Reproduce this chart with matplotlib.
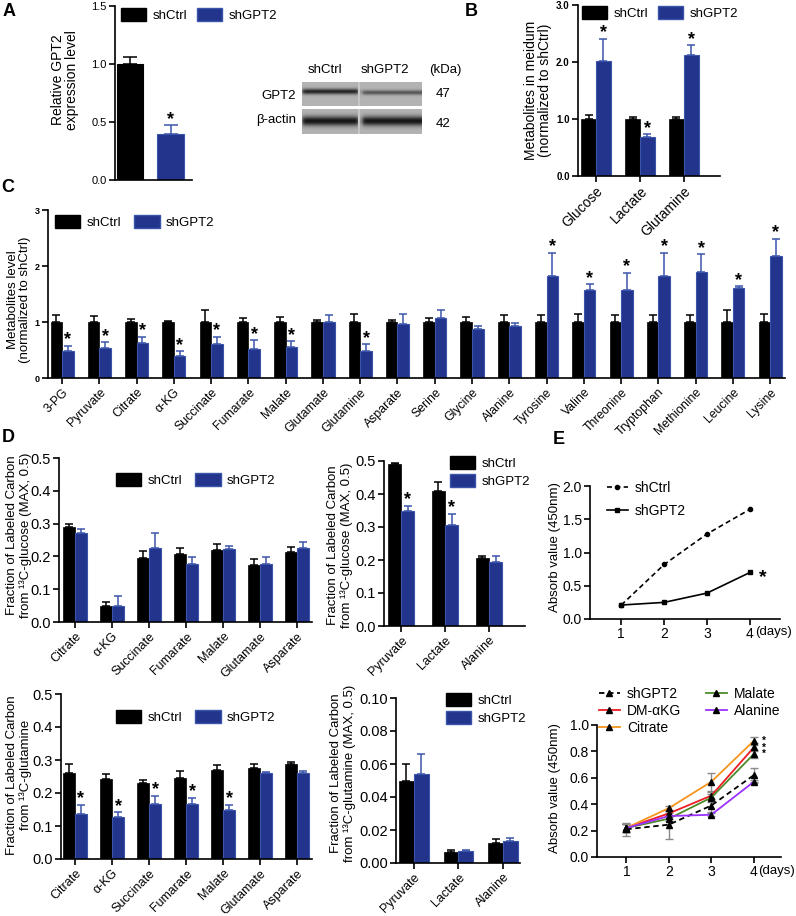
import numpy as np
import matplotlib
matplotlib.use('Agg')
import matplotlib.pyplot as plt
from matplotlib.patches import Patch
from matplotlib.lines import Line2D

plt.rcParams['font.family'] = ['Liberation Sans', 'DejaVu Sans']

# ---------------- DATA ----------------
# Panel A
a_groups = ['shCtrl', 'shGPT2']
a_vals = [1.0, 0.40]
a_errs = [0.06, 0.07]

# Panel B
b_cats = ['Glucose', 'Lactate', 'Glutamine']
b_ctrl = [1.0, 1.0, 1.0]
b_ctrl_err = [0.07, 0.03, 0.04]
b_gpt = [2.01, 0.69, 2.12]
b_gpt_err = [0.40, 0.04, 0.17]
b_star = [1, 1, 1]

# Panel C
c_cats = ['3-PG', 'Pyruvate', 'Citrate', 'α-KG', 'Succinate', 'Fumarate', 'Malate',
          'Glutamate', 'Glutamine', 'Asparate', 'Serine', 'Glycine', 'Alanine',
          'Tyrosine', 'Valine', 'Threonine', 'Tryptophan', 'Methionine', 'Leucine', 'Lysine']
c_ctrl = [1.0, 1.0, 1.0, 1.0, 1.0, 1.0, 1.0, 1.0, 1.0, 1.0,
          1.0, 1.0, 1.0, 1.0, 1.0, 1.0, 1.0, 1.0, 1.0, 1.0]
c_ctrl_err = [0.12, 0.10, 0.05, 0.02, 0.22, 0.07, 0.09, 0.04, 0.15, 0.04,
              0.07, 0.09, 0.12, 0.12, 0.14, 0.12, 0.12, 0.12, 0.22, 0.15]
c_gpt = [0.48, 0.54, 0.63, 0.40, 0.60, 0.52, 0.55, 1.00, 0.48, 0.97,
         1.08, 0.87, 0.92, 1.83, 1.58, 1.58, 1.83, 1.90, 1.61, 2.17]
c_gpt_err = [0.10, 0.10, 0.11, 0.08, 0.14, 0.15, 0.11, 0.13, 0.12, 0.17,
             0.13, 0.06, 0.06, 0.41, 0.09, 0.30, 0.41, 0.31, 0.03, 0.32]
c_star = [1, 1, 1, 1, 1, 1, 1, 0, 1, 0, 0, 0, 0, 1, 1, 1, 1, 1, 1, 1]

# Panel D (13C-glucose)
d1_cats = ['Citrate', 'α-KG', 'Succinate', 'Fumarate', 'Malate', 'Glutamate', 'Asparate']
d1_ctrl = [0.290, 0.050, 0.195, 0.208, 0.218, 0.173, 0.213]
d1_ctrl_err = [0.010, 0.012, 0.020, 0.017, 0.020, 0.018, 0.017]
d1_gpt = [0.270, 0.048, 0.225, 0.177, 0.222, 0.178, 0.225]
d1_gpt_err = [0.015, 0.030, 0.047, 0.022, 0.010, 0.020, 0.018]
d1_star = [0, 0, 0, 0, 0, 0, 0]

d2_cats = ['Pyruvate', 'Lactate', 'Alanine']
d2_ctrl = [0.490, 0.410, 0.205]
d2_ctrl_err = [0.005, 0.025, 0.008]
d2_gpt = [0.350, 0.305, 0.193]
d2_gpt_err = [0.015, 0.035, 0.020]
d2_star = [1, 1, 0]

# Panel D (13C-glutamine)
d3_cats = ['Citrate', 'α-KG', 'Succinate', 'Fumarate', 'Malate', 'Glutamate', 'Asparate']
d3_ctrl = [0.262, 0.242, 0.230, 0.245, 0.270, 0.276, 0.287]
d3_ctrl_err = [0.025, 0.015, 0.009, 0.021, 0.015, 0.012, 0.006]
d3_gpt = [0.137, 0.127, 0.166, 0.166, 0.150, 0.260, 0.260]
d3_gpt_err = [0.027, 0.015, 0.026, 0.019, 0.014, 0.003, 0.007]
d3_star = [1, 1, 1, 1, 1, 0, 0]

d4_cats = ['Pyruvate', 'Lactate', 'Alanine']
d4_ctrl = [0.050, 0.0065, 0.012]
d4_ctrl_err = [0.010, 0.0015, 0.0025]
d4_gpt = [0.054, 0.0070, 0.0133]
d4_gpt_err = [0.012, 0.0010, 0.0020]
d4_star = [0, 0, 0]

# Panel E
e_days = [1, 2, 3, 4]
e1_shctrl = [0.21, 0.82, 1.28, 1.65]
e1_shgpt2 = [0.21, 0.25, 0.39, 0.70]

e2_names = ['shGPT2', 'DM-αKG', 'Citrate', 'Malate', 'Alanine']
e2_shgpt2 = [0.21, 0.245, 0.39, 0.62]
e2_dmakg = [0.22, 0.33, 0.465, 0.83]
e2_citrate = [0.22, 0.37, 0.57, 0.88]
e2_malate = [0.22, 0.29, 0.45, 0.78]
e2_alanine = [0.22, 0.31, 0.32, 0.57]
e2_shgpt2_err = [0.05, 0.11, 0.05, 0.055]
e2_dmakg_err = [0.03, 0.02, 0.03, 0.03]
e2_citrate_err = [0.03, 0.02, 0.07, 0.03]
e2_malate_err = [0.03, 0.02, 0.03, 0.03]
e2_alanine_err = [0.03, 0.02, 0.01, 0.01]

# ---------------- FIGURE ----------------
W, H = 796, 916
fig = plt.figure(figsize=(W / 100, H / 100), dpi=100)

BLACK = '#000000'
BLUE = '#22348c'
BLUE_E = '#3b55ab'


def axpx(l, t, r, b):
    ax = fig.add_axes([l / W, 1 - b / H, (r - l) / W, (b - t) / H])
    ax.patch.set_alpha(0)
    return ax


def fx(x):
    return x / W


def fy(y):
    return 1 - y / H


def style(ax, fs=9, xfs=None, bold=False, lw=1.2):
    for s in ['top', 'right']:
        ax.spines[s].set_visible(False)
    for s in ['left', 'bottom']:
        ax.spines[s].set_linewidth(lw)
    ax.tick_params(axis='both', width=lw, length=4, direction='out', pad=2)
    ax.tick_params(axis='y', labelsize=fs)
    ax.tick_params(axis='x', labelsize=xfs if xfs else fs)
    if bold:
        for lab in ax.get_yticklabels():
            lab.set_fontweight('bold')


def grouped(ax, cats, ctrl, ctrl_err, gpt, gpt_err, stars, width, star_fs, cap=3,
            star_off=1.0):
    x = np.arange(len(cats))
    n = len(cats)
    ax.bar(x - width / 2, ctrl, width, color=BLACK, edgecolor=BLACK, linewidth=0.5, zorder=2)
    ax.bar(x + width / 2, gpt, width, color=BLUE, edgecolor=BLUE_E, linewidth=0.8, zorder=2)
    ax.errorbar(x - width / 2, ctrl, yerr=[np.zeros(n), ctrl_err], fmt='none', ecolor=BLACK,
                elinewidth=1.1, capsize=cap, capthick=1.1, zorder=1)
    ax.errorbar(x + width / 2, gpt, yerr=[np.zeros(n), gpt_err], fmt='none', ecolor=BLUE_E,
                elinewidth=1.1, capsize=cap, capthick=1.1, zorder=1)
    for xi, g, e, s in zip(x, gpt, gpt_err, stars):
        if s:
            ax.annotate('*', (xi + width / 2, g + e), xytext=(0, star_off),
                        textcoords='offset points', ha='center', va='baseline',
                        fontsize=star_fs, fontweight='bold')
    ax.set_xticks(x)
    ax.set_xticklabels(cats, rotation=45, ha='right', rotation_mode='anchor')


def bar_legend(ax, x, y, fs, ncol=2, colsp=1.0, labsp=0.3, hl=1.9):
    handles = [Patch(facecolor=BLACK, edgecolor=BLACK),
               Patch(facecolor=BLUE, edgecolor=BLUE_E)]
    ax.legend(handles, ['shCtrl', 'shGPT2'], loc='center left',
              bbox_to_anchor=(fx(x), fy(y)), bbox_transform=fig.transFigure,
              ncol=ncol, frameon=False, fontsize=fs, handlelength=hl, handleheight=1.15,
              handletextpad=0.5, columnspacing=colsp, labelspacing=labsp, borderpad=0,
              borderaxespad=0)


def ylab(x, y, text, fs):
    fig.text(fx(x), fy(y), text, rotation=90, ha='center', va='center', fontsize=fs,
             multialignment='center', linespacing=1.05)


# ---------- Panel A ----------
axA = axpx(115, 6, 192, 180)
xa = np.arange(len(a_groups))
axA.bar(xa, a_vals, 0.65, color=[BLACK, BLUE], edgecolor=[BLACK, BLUE_E], linewidth=0.8, zorder=2)
axA.errorbar(xa[0], a_vals[0], yerr=[[0], [a_errs[0]]], fmt='none', ecolor=BLACK,
             elinewidth=1.1, capsize=5, capthick=1.1, zorder=1)
axA.errorbar(xa[1], a_vals[1], yerr=[[0], [a_errs[1]]], fmt='none', ecolor=BLUE_E,
             elinewidth=1.1, capsize=5, capthick=1.1, zorder=1)
axA.annotate('*', (xa[1], a_vals[1] + a_errs[1]), xytext=(0, 1), textcoords='offset points',
             ha='center', va='baseline', fontsize=13, fontweight='bold')
axA.set_xlim(-0.37, 1.53)
axA.set_ylim(0, 1.5)
axA.set_yticks([0, 0.5, 1.0, 1.5])
axA.set_yticklabels(['0.0', '0.5', '1.0', '1.5'])
axA.set_xticks([])
style(axA, fs=8)
ylab(65, 80, 'Relative GPT2\nexpression level', 10)
bar_legend(axA, 121, 15, 9.5, colsp=0.7)

# Western blot (image)
def strip(h, w, centers, sigmas, depths, rowc, gapx):
    img = np.full((h, w), 0.70)
    yy = np.arange(h)[:, None]
    xx = np.arange(w)[None, :]
    for (x0, x1), s, d, rc in zip(centers, sigmas, depths, rowc):
        env = 0.5 * (np.tanh((xx - x0) / 2.0) - np.tanh((xx - x1) / 2.0))
        img -= d * env * np.exp(-0.5 * ((yy - rc) / s) ** 2)
    img[:, gapx:gapx + 2] = 0.78
    return img

axW1 = axpx(302, 82, 422, 106)
axW1.imshow(strip(24, 120, [(0, 56), (60, 122)], [2.0, 1.7], [0.55, 0.36], [9, 10], 56),
            cmap='gray', vmin=0, vmax=1, aspect='auto', interpolation='bilinear')
axW1.axis('off')
axW2 = axpx(302, 109, 422, 134)
axW2.imshow(strip(25, 120, [(0, 56), (60, 122)], [3.2, 3.2], [0.62, 0.62], [12, 12], 56),
            cmap='gray', vmin=0, vmax=1, aspect='auto', interpolation='bilinear')
axW2.axis('off')
fig.text(fx(325), fy(70), 'shCtrl', ha='center', va='center', fontsize=9.5)
fig.text(fx(385), fy(70), 'shGPT2', ha='center', va='center', fontsize=9.5)
fig.text(fx(445), fy(70), '(kDa)', ha='center', va='center', fontsize=9.5)
fig.text(fx(296), fy(96), 'GPT2', ha='right', va='center', fontsize=9.5)
fig.text(fx(296), fy(120), 'β-actin', ha='right', va='center', fontsize=9.5)
fig.text(fx(443), fy(94), '47', ha='center', va='center', fontsize=9.5)
fig.text(fx(443), fy(124), '42', ha='center', va='center', fontsize=9.5)

# ---------- Panel B ----------
axB = axpx(578, 5, 720, 176)
grouped(axB, b_cats, b_ctrl, b_ctrl_err, b_gpt, b_gpt_err, b_star, 0.34, 13, cap=2.8)
axB.set_xlim(-0.41, 2.82)
axB.set_ylim(0, 3)
axB.set_yticks([0, 1, 2, 3])
axB.set_yticklabels(['0.0', '1.0', '2.0', '3.0'])
style(axB, fs=7, xfs=10, bold=True)
ylab(538, 90, 'Metabolites in meidum\n(normalized to shCtrl)', 10)
bar_legend(axB, 582, 13, 9.5, colsp=0.7)

# ---------- Panel C ----------
axC = axpx(48, 210, 785, 378)
grouped(axC, c_cats, c_ctrl, c_ctrl_err, c_gpt, c_gpt_err, c_star, 0.31, 13, cap=2.6)
axC.set_xlim(-0.38, 19.4)
axC.set_ylim(0, 3)
axC.set_yticks([0, 1, 2, 3])
style(axC, fs=6.5, xfs=8.8, bold=True)
ylab(19, 300, 'Metabolites level\n(normalized to shCtrl)', 9.5)
bar_legend(axC, 55, 222, 9.5, colsp=1.0)

# ---------- Panel D ----------
axD1 = axpx(59, 458, 312, 622)
grouped(axD1, d1_cats, d1_ctrl, d1_ctrl_err, d1_gpt, d1_gpt_err, d1_star, 0.32, 13, cap=2.8)
axD1.set_xlim(-0.43, 6.4)
axD1.set_ylim(0, 0.5)
axD1.set_yticks([0, 0.1, 0.2, 0.3, 0.4, 0.5])
axD1.set_yticklabels(['0.0', '0.1', '0.2', '0.3', '0.4', '0.5'])
style(axD1, fs=10.5, xfs=9)
ylab(19, 535, 'Fraction of Labeled Carbon\nfrom ¹³C-glucose (MAX, 0.5)', 9.5)
bar_legend(axD1, 116, 480, 9.5, colsp=1.0)

axD2 = axpx(384, 461, 525, 626)
grouped(axD2, d2_cats, d2_ctrl, d2_ctrl_err, d2_gpt, d2_gpt_err, d2_star, 0.3, 13, cap=2.8)
axD2.set_xlim(-0.39, 2.82)
axD2.set_ylim(0, 0.5)
axD2.set_yticks([0, 0.1, 0.2, 0.3, 0.4, 0.5])
axD2.set_yticklabels(['0.0', '0.1', '0.2', '0.3', '0.4', '0.5'])
style(axD2, fs=10.5, xfs=9)
ylab(340, 545, 'Fraction of Labeled Carbon\nfrom ¹³C-glucose (MAX, 0.5)', 9.5)
bar_legend(axD2, 450, 472, 9.5, ncol=1, labsp=0.25)

axD3 = axpx(61, 694, 312, 859)
grouped(axD3, d3_cats, d3_ctrl, d3_ctrl_err, d3_gpt, d3_gpt_err, d3_star, 0.32, 13, cap=2.8)
axD3.set_xlim(-0.38, 6.4)
axD3.set_ylim(0, 0.5)
axD3.set_yticks([0, 0.1, 0.2, 0.3, 0.4, 0.5])
axD3.set_yticklabels(['0.0', '0.1', '0.2', '0.3', '0.4', '0.5'])
style(axD3, fs=10.5, xfs=9)
ylab(19, 775, 'Fraction of Labeled Carbon\nfrom ¹³C-glutamine', 9.5)
bar_legend(axD3, 116, 717, 9.5, colsp=1.0)

axD4 = axpx(396, 698, 520, 863)
grouped(axD4, d4_cats, d4_ctrl, d4_ctrl_err, d4_gpt, d4_gpt_err, d4_star, 0.33, 13, cap=2.8)
axD4.set_xlim(-0.40, 2.38)
axD4.set_ylim(0, 0.10)
axD4.set_yticks([0, 0.02, 0.04, 0.06, 0.08, 0.10])
axD4.set_yticklabels(['0.00', '0.02', '0.04', '0.06', '0.08', '0.10'])
style(axD4, fs=10.5, xfs=9)
ylab(343, 773, 'Fraction of Labeled Carbon\nfrom ¹³C-glutamine (MAX, 0.5)', 9.5)
bar_legend(axD4, 446, 709, 9.5, ncol=1, labsp=0.25)

# ---------- Panel E ----------
axE1 = axpx(590, 486, 780, 619)
axE1.plot(e_days, e1_shctrl, color=BLACK, ls=(0, (3, 2)), lw=1.2, marker='o', ms=3, label='shCtrl')
axE1.plot(e_days, e1_shgpt2, color=BLACK, ls='-', lw=1.2, marker='s', ms=3.5, label='shGPT2')
axE1.annotate('*', (e_days[-1], e1_shgpt2[-1]), xytext=(9, -7), textcoords='offset points',
              ha='center', va='baseline', fontsize=14, fontweight='bold')
axE1.set_xlim(0.27, 4.7)
axE1.set_ylim(0, 2.0)
axE1.set_xticks(e_days)
axE1.set_yticks([0, 0.5, 1.0, 1.5, 2.0])
axE1.set_yticklabels(['0.0', '0.5', '1.0', '1.5', '2.0'])
style(axE1, fs=10)
fig.text(fx(755), fy(632), '(days)', ha='left', va='center', fontsize=9.5)
ylab(555, 547, 'Absorb value (450nm)', 9.5)
axE1.legend(loc='upper left', bbox_to_anchor=(fx(607), fy(481)), bbox_transform=fig.transFigure,
            frameon=False, fontsize=10, handlelength=1.5, handletextpad=0.5, labelspacing=0.65,
            borderpad=0, borderaxespad=0)

axE2 = axpx(597, 725, 781, 857)
e2_series = [e2_shgpt2, e2_dmakg, e2_citrate, e2_malate, e2_alanine]
e2_errs = [e2_shgpt2_err, e2_dmakg_err, e2_citrate_err, e2_malate_err, e2_alanine_err]
e2_colors = [BLACK, '#ee1c25', '#f7941d', '#4e8a2a', '#9b30ff']
e2_ls = [(0, (3, 2)), '-', '-', '-', '-']
for vals, errs, c, ls, nm in zip(e2_series, e2_errs, e2_colors, e2_ls, e2_names):
    axE2.errorbar(e_days, vals, yerr=errs, fmt='none', ecolor='#8a8a8a', elinewidth=1.0,
                  capsize=3, capthick=1.0, zorder=1)
    axE2.plot(e_days, vals, color=c, ls=ls, lw=1.3, marker='^', ms=4, mfc=BLACK, mec=BLACK,
              label=nm, zorder=3)
axE2.annotate('*\n*\n*', (e_days[-1], e2_dmakg[-1]), xytext=(7, 0), textcoords='offset points',
              ha='center', va='center', fontsize=7, fontweight='bold', linespacing=0.55)
axE2.set_xlim(0.31, 4.64)
axE2.set_ylim(0, 1.0)
axE2.set_xticks(e_days)
axE2.set_yticks([0, 0.2, 0.4, 0.6, 0.8, 1.0])
axE2.set_yticklabels(['0.0', '0.2', '0.4', '0.6', '0.8', '1.0'])
style(axE2, fs=10)
fig.text(fx(758), fy(871), '(days)', ha='left', va='center', fontsize=9.5)
ylab(555, 788, 'Absorb value (450nm)', 9.5)
axE2.legend(loc='upper left', bbox_to_anchor=(fx(599), fy(687)), bbox_transform=fig.transFigure,
            ncol=2, frameon=False, fontsize=10, handlelength=1.5, handletextpad=0.5,
            labelspacing=0.2, columnspacing=1.8, borderpad=0, borderaxespad=0)

# ---------- panel letters ----------
for letter, x, y in [('A', 9, 11), ('B', 471, 11), ('C', 8, 187), ('D', 8, 437), ('E', 559, 439)]:
    fig.text(fx(x), fy(y), letter, ha='center', va='center', fontsize=13, fontweight='bold')

fig.savefig('out.png', dpi=100)
